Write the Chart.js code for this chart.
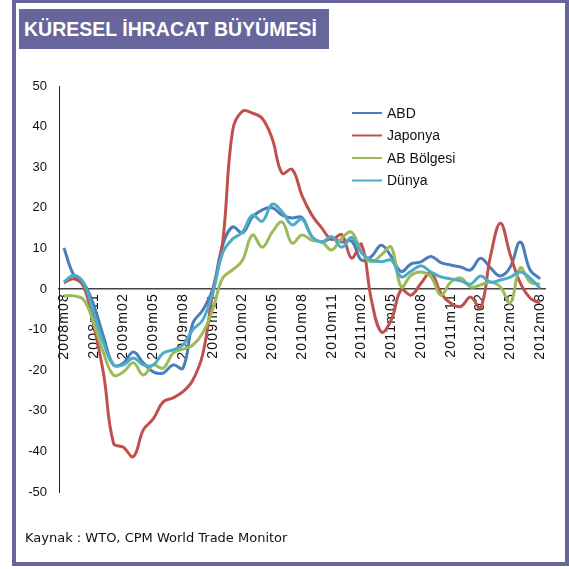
<!DOCTYPE html>
<html>
<head>
<meta charset="utf-8">
<script src="https://cdn.jsdelivr.net/npm/chart.js"></script>
<style>
  html, body { margin: 0; padding: 0; background: #fff; }
  #wrap { position: relative; width: 569px; height: 569px; overflow: hidden; }
  #frame {
    position: absolute; left: 12px; top: 0; width: 549px; height: 559px;
    border: 4px solid #66669c; border-top-width: 3px; background: #fff;
  }
  #title {
    position: absolute; left: 19px; top: 9px; width: 310px; height: 40px;
    background: #66669c; color: #fff; font: bold 19.5px "Liberation Sans", Arial, sans-serif;
    line-height: 40px; box-sizing: border-box; padding-left: 5px; white-space: nowrap;
  }
  #source {
    position: absolute; left: 25px; top: 530px; color: #111;
    font: 13px "DejaVu Sans", sans-serif; white-space: nowrap;
  }
  canvas { position: absolute; left: 0; top: 0; }
</style>
</head>
<body>
<div id="wrap">
  <div id="frame"></div>
  <div id="title">KÜRESEL İHRACAT BÜYÜMESİ</div>
  <canvas id="chart" width="569" height="569"></canvas>
  <div id="source">Kaynak : WTO, CPM World Trade Monitor</div>
</div>
<script>
// months 2008m08 .. 2012m08
const months = [];
for (let y = 2008, m = 8; y < 2012 || (y === 2012 && m <= 8); m++) {
  if (m > 12) { m = 1; y++; }
  months.push(y + "m" + String(m).padStart(2, "0"));
}

const seriesNames = ["ABD", "Japonya", "AB Bölgesi", "Dünya"];
const seriesColors = ["#4a7ebb", "#c0504d", "#9bbb59", "#4bacc6"];

const abd = [10.1, 3.4, 1.4, -4, -11.8, -18.7, -18.2, -15.5, -18.2, -20.4,
  -20.7, -18.7, -19.5, -8.4, -5.2, 0, 10.8, 15.3, 13.8, 17.7,
  19.5, 20, 18.2, 17.5, 17.6, 12.9, 11.6, 12.5, 11.6, 11.8,
  7.1, 8, 10.8, 8, 4.3, 6.2, 6.7, 8, 6.5, 5.9,
  5.4, 4.7, 7.6, 5.2, 3.2, 5.4, 11.6, 4.7, 2.5];
const japonya = [1.5, 2.5, 0.5, -9, -21, -38, -39, -41.3, -34.7, -32,
  -27.8, -26.8, -25.3, -22.4, -16, -1, 11.5, 39, 43.8, 43.3,
  42, 37, 28.5, 29.5, 23, 18.2, 15, 12.2, 13.4, 7.6,
  11, -2.7, -10.6, -7.6, -0.2, -1.5, 1.4, 4, -1, -3.5,
  -4.3, -2, -4.7, 8, 16.2, 8.4, 1.5, -2.2, -3.5];
const abBolgesi = [-1.7, -1.7, -2.7, -8.4, -15.8, -21.2, -20.4, -18.2, -21.2, -18.7,
  -19.5, -15.8, -14.8, -13.8, -10.8, -5, 2.7, 4.7, 7.1, 13.3,
  10.3, 14, 16.5, 11.3, 13.3, 12, 11.6, 9.6, 12.5, 14,
  9.1, 6.7, 8.4, 10.3, 0.5, 3.4, 4.2, 3, -1.5, 1.7,
  2.7, 0.5, 1, 1.7, 0.5, -3.5, 5.2, 1.7, 1.2];
const dunya = [1.7, 3.4, 1.4, -6, -13.3, -18.7, -18.7, -17, -18.7, -18.7,
  -15.8, -15, -13.8, -10, -7.6, -1, 8.9, 12.3, 14, 18.2,
  16.7, 20.9, 19, 15.8, 17.2, 12.9, 11.6, 12.9, 10.3, 12.7,
  8.9, 7.1, 6.7, 7.1, 3, 4.4, 5.7, 4.2, 3, 2.5,
  2, 1.2, 3.2, 1.7, 2.2, 2.9, 4.2, 2.7, 0.2];
const seriesValues = [abd, japonya, abBolgesi, dunya];
const drawOrder = [3, 2, 1, 0];

const yTicks = [50, 40, 30, 20, 10, 0, -10, -20, -30, -40, -50];

const insideLegend = {
  id: "insideLegend",
  afterDraw(chart) {
    const ctx = chart.ctx;
    ctx.save();
    ctx.font = '14px "Liberation Sans", Arial, sans-serif';
    ctx.textBaseline = "middle";
    ctx.fillStyle = "#111";
    chart.data.datasets.forEach((ds, i) => {
      const y = 113 + i * 22.5;
      ctx.strokeStyle = ds.borderColor;
      ctx.lineWidth = 2;
      ctx.beginPath();
      ctx.moveTo(352, y);
      ctx.lineTo(382, y);
      ctx.stroke();
      ctx.fillText(ds.label, 387, y + 1);
    });
    ctx.restore();
  }
};

// x labels in the original are spaced out a bit
function spacedLabels(scale) {
  if (scale._spaced) return;
  scale._spaced = true;
  const orig = scale.drawLabels;
  scale.drawLabels = function (area) {
    const ctx = this.ctx;
    ctx.save();
    ctx.letterSpacing = "1.2px";
    orig.call(this, area);
    ctx.restore();
  };
}

new Chart(document.getElementById("chart"), {
  type: "line",
  data: {
    labels: months,
    datasets: seriesNames.map((name, i) => ({
      label: name,
      data: seriesValues[i],
      borderColor: seriesColors[i],
      backgroundColor: seriesColors[i],
      borderWidth: 3,
      pointRadius: 0,
      tension: 0.4,
      order: drawOrder[i]
    }))
  },
  options: {
    responsive: false,
    animation: false,
    layout: { padding: { left: 19, top: 86, right: 24, bottom: 77 } },
    plugins: { legend: { display: false }, tooltip: { enabled: false } },
    scales: {
      x: {
        position: { y: 0 },
        offset: true,
        afterUpdate: spacedLabels,
        grid: { display: false, drawTicks: false },
        border: { display: true, color: "#444", width: 1.5 },
        ticks: {
          autoSkip: false,
          minRotation: 90,
          maxRotation: 90,
          padding: 4,
          color: "#111",
          font: { family: '"Liberation Sans", Arial, sans-serif', size: 14 },
          callback: function (val, idx) { return idx % 3 === 0 ? months[idx] : ""; }
        }
      },
      y: {
        min: -50,
        max: 50,
        afterFit: s => { s.width = 40; },
        afterBuildTicks: s => { s.ticks = yTicks.map(v => ({ value: v })); },
        grid: { display: false, drawTicks: false },
        border: { display: true, color: "#222", width: 1 },
        ticks: {
          padding: 12,
          color: "#111",
          font: { family: '"Liberation Sans", Arial, sans-serif', size: 13 }
        }
      }
    }
  },
  plugins: [insideLegend]
});
</script>
</body>
</html>
